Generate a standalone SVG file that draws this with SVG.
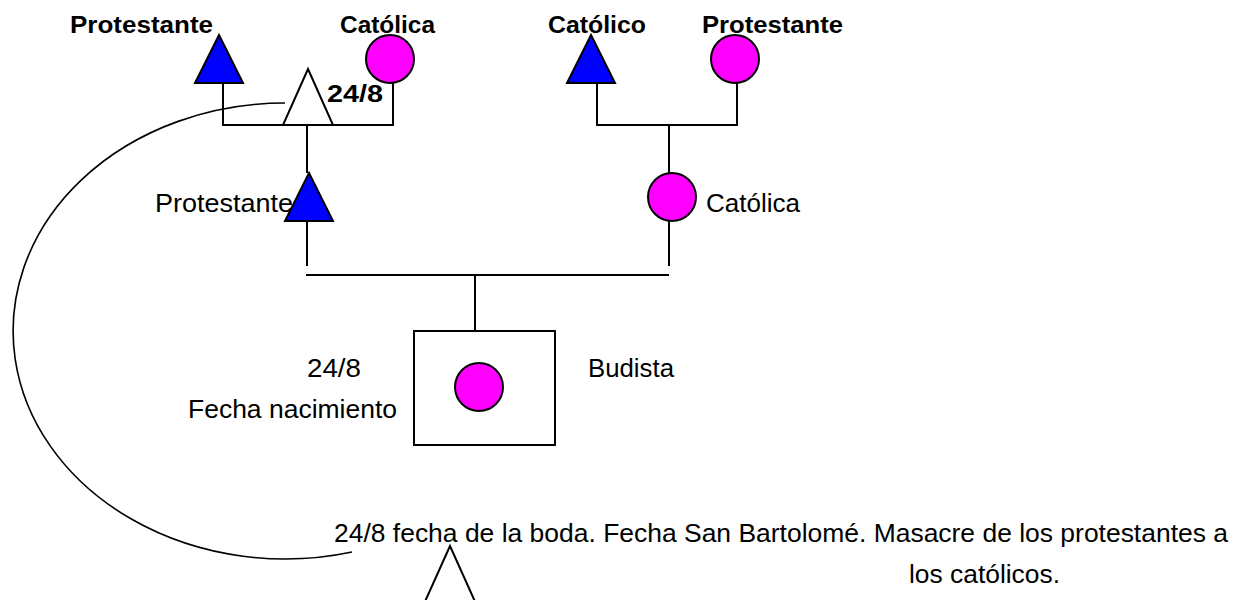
<svg xmlns="http://www.w3.org/2000/svg" width="1243" height="600" viewBox="0 0 1243 600">
<style>
.ln{stroke:#000;stroke-width:2;fill:none}
.cv{stroke:#000;stroke-width:1.6;fill:none}
.m{fill:#0000ff;stroke:#000;stroke-width:2}
.f{fill:#ff00ff;stroke:#000;stroke-width:2}
.w{fill:#fff;stroke:#000;stroke-width:2}
.b{font-family:"Liberation Sans",Arial,sans-serif;font-weight:bold;font-size:23px;fill:#000}
.r{font-family:"Liberation Sans",Arial,sans-serif;font-size:25px;fill:#000}
</style>
<rect width="1243" height="600" fill="#fff"/>
<g id="connectors">
<path class="ln" d="M223,83V125H393V83"/>
<path class="ln" d="M597,83V125H737V83"/>
<path class="ln" d="M307,125V173"/>
<path class="ln" d="M669,125V173"/>
<path class="ln" d="M307,221V266"/>
<path class="ln" d="M669,221V266"/>
<path class="ln" d="M306,275H669"/>
<path class="ln" d="M475,275V331"/>
<path class="cv" d="M285,103 A272,228 0 1,0 352,552"/>
</g>
<g id="pgf">
<text class="b" x="70" y="33" textLength="143" lengthAdjust="spacingAndGlyphs">Protestante</text>
<polygon class="m" points="219,35 243,83 195,83"/>
</g>
<g id="pgm">
<text class="b" x="340" y="33" textLength="95" lengthAdjust="spacingAndGlyphs">Católica</text>
<circle class="f" cx="390" cy="59" r="24"/>
</g>
<g id="groom">
<polygon class="w" points="308,69 333,125 283,125"/>
<text class="b" x="327" y="102" textLength="56" lengthAdjust="spacingAndGlyphs">24/8</text>
</g>
<g id="mgf">
<text class="b" x="548" y="33" textLength="98" lengthAdjust="spacingAndGlyphs">Católico</text>
<polygon class="m" points="591,35 615,83 567,83"/>
</g>
<g id="mgm">
<text class="b" x="702" y="33" textLength="141" lengthAdjust="spacingAndGlyphs">Protestante</text>
<circle class="f" cx="735" cy="59" r="24"/>
</g>
<g id="father">
<text class="r" x="155" y="212" textLength="138" lengthAdjust="spacingAndGlyphs">Protestante</text>
<polygon class="m" points="309,173 333,221 285,221"/>
</g>
<g id="mother">
<circle class="f" cx="672" cy="197" r="24"/>
<text class="r" x="706" y="212" textLength="94" lengthAdjust="spacingAndGlyphs">Católica</text>
</g>
<g id="child">
<rect class="ln" x="414" y="331" width="141" height="114"/>
<circle class="f" cx="479" cy="387" r="24"/>
<text class="r" x="307" y="377" textLength="54" lengthAdjust="spacingAndGlyphs">24/8</text>
<text class="r" x="188" y="418" textLength="209" lengthAdjust="spacingAndGlyphs">Fecha nacimiento</text>
<text class="r" x="588" y="377" textLength="86" lengthAdjust="spacingAndGlyphs">Budista</text>
</g>
<g id="note">
<text class="r" x="334" y="542" textLength="894" lengthAdjust="spacingAndGlyphs">24/8 fecha de la boda. Fecha San Bartolomé. Masacre de los protestantes a</text>
<text class="r" x="909" y="583" textLength="151" lengthAdjust="spacingAndGlyphs">los católicos.</text>
</g>
<g id="bottom-triangle">
<polygon class="w" points="450,546 477,606 423,606"/>
</g>
</svg>
